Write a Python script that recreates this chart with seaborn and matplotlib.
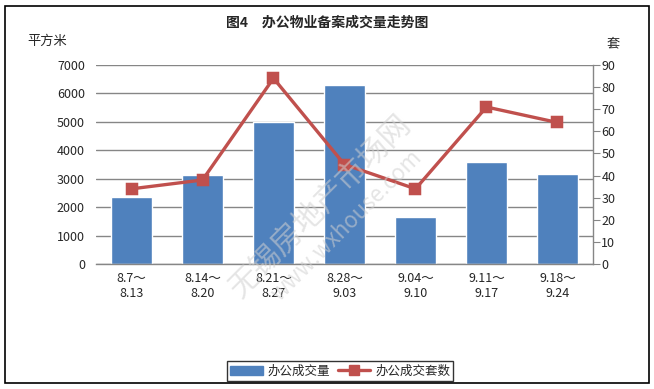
import numpy as np
import pandas as pd
import matplotlib
matplotlib.use("Agg")
import matplotlib.pyplot as plt
import seaborn as sns
from matplotlib.patches import Rectangle, Patch
from matplotlib.lines import Line2D

# data
weeks = ["8.7～\n8.13", "8.14～\n8.20", "8.21～\n8.27", "8.28～\n9.03",
         "9.04～\n9.10", "9.11～\n9.17", "9.18～\n9.24"]
area = [2360, 3130, 4980, 6300, 1650, 3590, 3160]      # 办公成交量 (平方米)
units = [34, 38, 84, 45, 34, 71, 64]                    # 办公成交套数 (套)
left_ticks = list(range(0, 7001, 1000))
right_ticks = list(range(0, 91, 10))

df = pd.DataFrame({"week": weeks, "area": area, "units": units})

sns.set_style("white")
plt.rcParams['font.family'] = ['Noto Sans CJK SC', 'DejaVu Sans']

bar_color = "#4F81BD"
line_color = "#C0504D"
grid_color = "#868686"

fig = plt.figure(figsize=(6.54, 3.89), dpi=100)
ax = fig.add_axes([0.1468, 0.3213, 0.7599, 0.5116])

sns.barplot(data=df, x="week", y="area", color=bar_color, width=0.58,
            saturation=1, ax=ax, zorder=2)
ax.set_ylim(0, 7000)
ax.set_yticks(left_ticks)
ax.yaxis.grid(True, color=grid_color, linewidth=1)
ax.set_axisbelow(True)
ax.set_xlabel("")
ax.set_ylabel("")
for s in ["left", "top", "right"]:
    ax.spines[s].set_visible(False)
ax.spines["bottom"].set_color(grid_color)
ax.spines["bottom"].set_linewidth(1)
ax.tick_params(axis="y", length=0, labelsize=9, pad=8)
ax.tick_params(axis="x", length=0, labelsize=9, pad=6)

ax2 = ax.twinx()
sns.pointplot(data=df, x="week", y="units", color=line_color, markers="s",
              linestyles="-", ax=ax2, markersize=7, linewidth=2.4)
ax2.set_ylim(0, 90)
ax2.set_yticks(right_ticks)
ax2.set_ylabel("")
ax2.set_xlabel("")
for s in ["left", "top", "bottom"]:
    ax2.spines[s].set_visible(False)
ax2.spines["right"].set_color(grid_color)
ax2.spines["right"].set_linewidth(1)
ax2.tick_params(axis="y", direction="out", length=5, color=grid_color,
                labelsize=9, pad=1)
ax.set_xlim(-0.5, 6.5)
ax2.set_xlim(-0.5, 6.5)

fig.text(0.5, 0.943, "图4　办公物业备案成交量走势图", ha="center", va="center",
         fontsize=10, fontweight="bold")
fig.text(0.072, 0.893, "平方米", ha="center", va="center", fontsize=9.5)
fig.text(0.937, 0.887, "套", ha="center", va="center", fontsize=9.5)

# faint watermark
fig.text(0.49, 0.47, "无锡房地产市场网", rotation=45, ha="center", va="center",
         fontsize=22, color="#d0d0d0", alpha=0.55, zorder=5)
fig.text(0.53, 0.42, "www.wxhouse.com", rotation=45, ha="center", va="center",
         fontsize=16, color="#d0d0d0", alpha=0.55, zorder=5)

handles = [Patch(facecolor=bar_color, edgecolor=bar_color),
           Line2D([0], [0], color=line_color, lw=2.4, marker="s", markersize=7)]
leg = fig.legend(handles, ["办公成交量", "办公成交套数"], loc="center",
                 bbox_to_anchor=(0.52, 0.046), ncol=2, fontsize=9,
                 frameon=True, fancybox=False, edgecolor="black",
                 handlelength=2.6, handletextpad=0.4, columnspacing=0.6,
                 borderpad=0.25)
leg.get_frame().set_linewidth(1)

fig.patches.append(Rectangle((0.0076, 0.0154), 0.985, 0.9692, fill=False,
                             edgecolor="black", linewidth=1.2,
                             transform=fig.transFigure, figure=fig))

fig.savefig("out.png", dpi=100)
